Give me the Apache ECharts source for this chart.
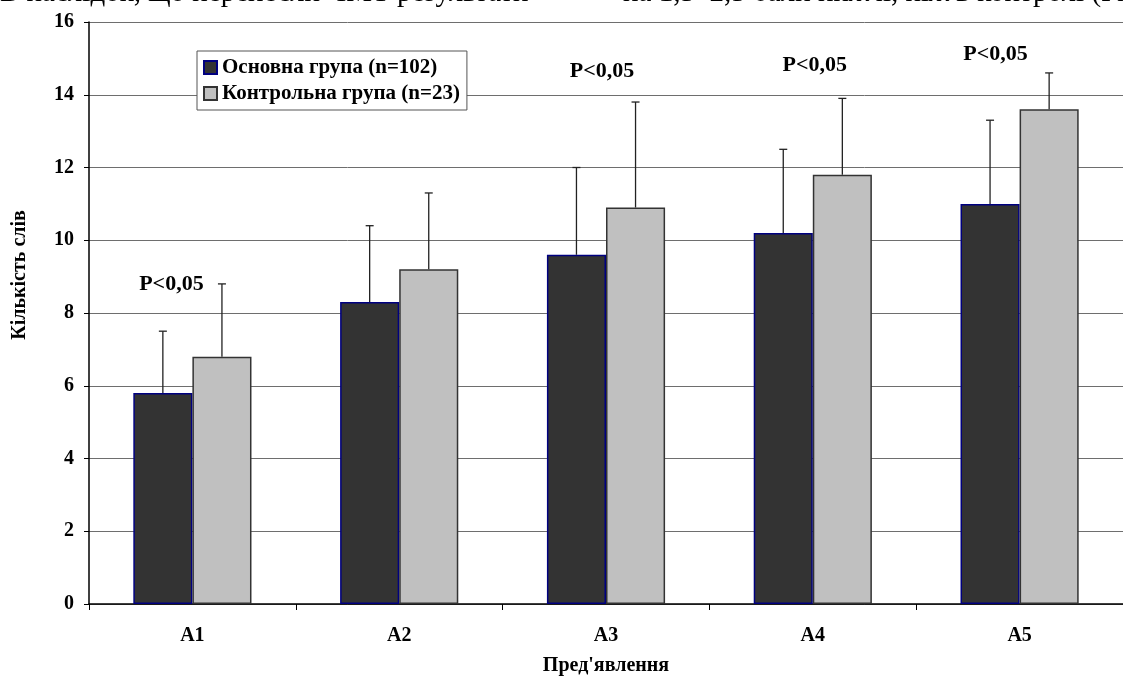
<!DOCTYPE html>
<html>
<head>
<meta charset="utf-8">
<script src="https://cdn.jsdelivr.net/npm/echarts@6/dist/echarts.min.js"></script>
<style>html,body{margin:0;padding:0;background:#fff;}#chart{width:1123px;height:683px;}</style>
</head>
<body>
<div id="chart"></div>
<script>
const categories = ['A1', 'A2', 'A3', 'A4', 'A5'];
const seriesNames = ['Основна група (n=102)', 'Контрольна група (n=23)'];
const mainValues = [5.8, 8.3, 9.6, 10.2, 11.0];
const controlValues = [6.8, 9.2, 10.9, 11.8, 13.6];
const mainUpper = [7.5, 10.4, 12.0, 12.5, 13.3];
const controlUpper = [8.8, 11.3, 13.8, 13.9, 14.6];
const pLabels = ['P<0,05', '', 'P<0,05', 'P<0,05', 'P<0,05'];
const pLevels = [8.8, null, 14.65, 14.8, 15.1];
const yTicks = { min: 0, max: 16, interval: 2 };
const yAxisTitle = 'Кількість слів';
const xAxisTitle = "Пред'явлення";
const headerLeft = 'В наслідок, що перенесли ЧМТ результати';
const headerRight = 'на 1,5–2,5 бали нижчі, ніж в контролі (Рис.';

const pLabelShift = [-21, 0, -4, 2, -24];
const FONT = '"Liberation Serif", "Times New Roman", serif';
const BAR_GAP_RATIO = 0.4286;

function errorRenderer(sign) {
  return function (params, api) {
    const idx = api.value(0);
    const base = api.coord([idx, api.value(1)]);
    const top = api.coord([idx, api.value(2)]);
    const band = api.size([1, 0])[0];
    const barW = band * (1 - BAR_GAP_RATIO) / 2;
    const x = base[0] + sign * barW / 2;
    const cap = 4;
    return {
      type: 'group',
      children: [
        { type: 'line', shape: { x1: x, y1: base[1], x2: x, y2: top[1] }, style: { stroke: '#222', lineWidth: 1.3 } },
        { type: 'line', shape: { x1: x - cap, y1: top[1], x2: x + cap, y2: top[1] }, style: { stroke: '#222', lineWidth: 1.3 } }
      ]
    };
  };
}

const chart = echarts.init(document.getElementById('chart'), null, { renderer: 'canvas' });
chart.setOption({
  backgroundColor: '#ffffff',
  animation: false,
  textStyle: { fontFamily: FONT },
  grid: { left: 89, top: 22, width: 1050, height: 582, containLabel: false },
  legend: {
    orient: 'vertical',
    left: 197,
    top: 51,
    data: seriesNames,
    backgroundColor: '#ffffff',
    borderColor: '#555',
    borderWidth: 1,
    padding: [6, 7, 6, 6],
    itemGap: 5,
    itemWidth: 13,
    itemHeight: 13,
    icon: 'rect',
    textStyle: { fontFamily: FONT, fontWeight: 'bold', fontSize: 21, color: '#000' }
  },
  xAxis: {
    type: 'category',
    data: categories,
    boundaryGap: true,
    name: xAxisTitle,
    nameLocation: 'middle',
    nameGap: 52,
    nameTextStyle: { fontFamily: FONT, fontWeight: 'bold', fontSize: 20, color: '#000' },
    axisLine: { lineStyle: { color: '#000', width: 1.5 } },
    axisTick: { show: true, alignWithLabel: false, length: 6, lineStyle: { color: '#000' } },
    axisLabel: { fontFamily: FONT, fontWeight: 'bold', fontSize: 20, color: '#000', margin: 22 },
    splitLine: { show: false }
  },
  yAxis: {
    type: 'value',
    min: yTicks.min,
    max: yTicks.max,
    interval: yTicks.interval,
    axisLine: { show: true, lineStyle: { color: '#000', width: 1.5 } },
    axisTick: { show: true, length: 5, lineStyle: { color: '#000' } },
    axisLabel: { fontFamily: FONT, fontWeight: 'bold', fontSize: 20, color: '#000', margin: 15 },
    splitLine: { show: true, lineStyle: { color: '#6e6e6e', width: 1 } }
  },
  series: [
    {
      name: seriesNames[0],
      type: 'bar',
      data: mainValues,
      barGap: '0%',
      barCategoryGap: (BAR_GAP_RATIO * 100) + '%',
      itemStyle: { color: '#333333', borderColor: '#000080', borderWidth: 1.5 },
      z: 2
    },
    {
      name: seriesNames[1],
      type: 'bar',
      data: controlValues,
      barGap: '0%',
      barCategoryGap: (BAR_GAP_RATIO * 100) + '%',
      itemStyle: { color: '#c0c0c0', borderColor: '#333333', borderWidth: 1.5 },
      z: 2
    },
    {
      type: 'custom',
      name: 'err-main',
      renderItem: errorRenderer(-1),
      data: categories.map((c, i) => [i, mainValues[i], mainUpper[i]]),
      encode: { x: 0, y: [1, 2] },
      z: 3,
      silent: true
    },
    {
      type: 'custom',
      name: 'err-control',
      renderItem: errorRenderer(1),
      data: categories.map((c, i) => [i, controlValues[i], controlUpper[i]]),
      encode: { x: 0, y: [1, 2] },
      z: 3,
      silent: true
    },
    {
      type: 'custom',
      name: 'p-labels',
      renderItem: function (params, api) {
        const i = api.value(0);
        const p = api.coord([i, api.value(1)]);
        return {
          type: 'text',
          x: p[0] + pLabelShift[i],
          y: p[1],
          style: {
            text: pLabels[i],
            fontFamily: FONT,
            fontWeight: 'bold',
            fontSize: 22,
            fill: '#000',
            align: 'center',
            verticalAlign: 'middle'
          }
        };
      },
      data: categories.map((c, i) => [i, pLevels[i]]).filter(d => d[1] !== null),
      encode: { x: 0, y: 1 },
      z: 4,
      silent: true
    }
  ],
  graphic: [
    {
      type: 'text', x: 20, y: 275, rotation: Math.PI / 2,
      style: { text: yAxisTitle, fontFamily: FONT, fontWeight: 'bold', fontSize: 20, fill: '#000', align: 'center', verticalAlign: 'middle' }
    },
    {
      type: 'text', x: 0, y: 8,
      style: { text: headerLeft, fontFamily: FONT, fontSize: 29, fill: '#000', align: 'left', verticalAlign: 'bottom' }
    },
    {
      type: 'text', x: 623, y: 8,
      style: { text: headerRight, fontFamily: FONT, fontSize: 29, fill: '#000', align: 'left', verticalAlign: 'bottom' }
    }
  ]
});
</script>
</body>
</html>
